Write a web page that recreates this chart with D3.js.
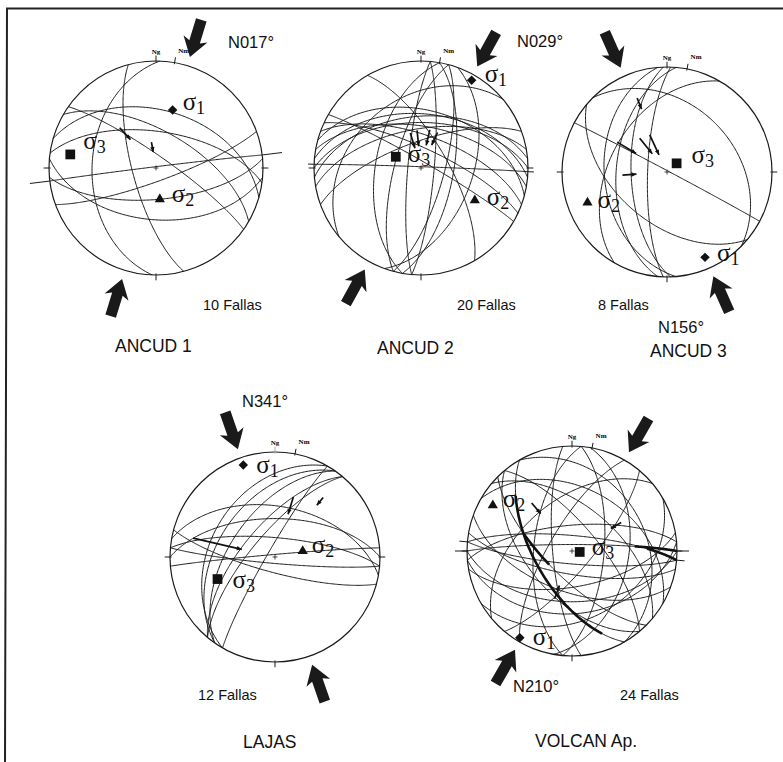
<!DOCTYPE html>
<html><head><meta charset="utf-8">
<script src="https://cdn.jsdelivr.net/npm/d3@7"></script>
<style>body{margin:0;background:#fff}svg{display:block}</style>
</head><body>
<svg id="chart" width="783" height="762"></svg>
<script>
// ---------------- DATA ----------------
const sites = ["ANCUD 1", "ANCUD 2", "ANCUD 3", "LAJAS", "VOLCAN Ap."];
const faultCounts = [10, 20, 8, 12, 24];
const compressionAz = [17, 29, 156, 341, 210];
const compressionLabels = ["N017°", "N029°", "N156°", "N341°", "N210°"];
const magneticDecl = [10, 10, 11, 11, 11];

// fault planes: dip direction / dip (degrees), lower hemisphere
const ancud1DipDir = [272, 255, 16, 8, 35, 30, 175, 185, 160, 353];
const ancud1Dip    = [40, 72, 45, 62, 81, 62, 66, 50, 80, 89];
const ancud2DipDir = [355, 0, 5, 10, 350, 15, 20, 340, 25, 280, 285, 275, 95, 100, 110, 105, 2, 30, 60, 320];
const ancud2Dip    = [50, 55, 48, 58, 60, 45, 65, 70, 75, 55, 70, 80, 80, 65, 50, 72, 89, 85, 70, 35];
const ancud3DipDir = [28, 300, 45, 272, 268, 275, 265, 220];
const ancud3Dip    = [89, 45, 35, 75, 62, 50, 40, 50];
const lajasDipDir  = [305, 305, 310, 300, 310, 300, 5, 0, 355, 195, 10, 185];
const lajasDip     = [55, 45, 65, 38, 72, 84, 75, 60, 88, 78, 50, 85];
const volcanDipDir = [0, 5, 355, 185, 190, 180, 175, 200, 170, 225, 230, 240, 50, 40, 30, 275, 265, 95, 100, 300, 320, 130, 60, 150];
const volcanDip    = [85, 78, 70, 80, 72, 50, 40, 58, 62, 70, 55, 61, 70, 55, 40, 60, 75, 65, 45, 72, 50, 75, 30, 35];
// thick (striated) portions of some VOLCAN planes: plane index, start / end angle along plane
const volcanBoldPlane = [11, 0, 1, 9];
const volcanBoldFrom  = [20, 140, 150, 95];
const volcanBoldTo    = [150, 180, 180, 125];
// straight traces drawn beyond the primitive: panel, plane index, extra length (px)
const extPanel = [0, 1, 4, 4];
const extPlane = [9, 16, 0, 1];
const extPx    = [20, 6, 12, 8];

// slickenside striae (slip vectors): panel, trend, plunge, arrow length (px)
const striaPanel  = [0, 0, 1, 1, 1, 1, 2, 2, 2, 2, 2, 3, 3, 3, 4, 4, 4];
const striaTrend  = [318, 350, 343, 354, 13, 25, 301, 321, 335, 338, 266, 17, 39, 283, 320, 60, 200];
const striaPlunge = [48, 70, 62, 61, 60, 60, 44, 56, 58, 25, 55, 40, 28, 21, 40, 45, 50];
const striaLen    = [16, 10, 16, 16, 16, 14, 22, 20, 22, 12, 14, 18, 10, 50, 14, 12, 14];

// principal stress axes: trend / plunge
const sigma1Trend = [16, 30, 156, 341, 211];
const sigma1Plunge = [43, 6, 12, 8, 4];
const sigma2Trend = [173, 121, 249, 78, 300];
const sigma2Plunge = [66, 41, 20, 68, 14];
const sigma3Trend = [279, 294, 48, 249, 97];
const sigma3Plunge = [20, 69, 80, 41, 84];

// ---------------- LAYOUT ----------------
const panels = [
  {cx:156, cy:168, R:107, head:[228,48], fallas:[203,310], name:[115,352],
   lab:{s1:[10,0], s2:[12,3], s3:[13,-5]}},
  {cx:421, cy:168, R:107, head:[517,47], fallas:[457,310], name:[377,354],
   lab:{s1:[13,2], s2:[12,5], s3:[12,5]}},
  {cx:667, cy:172, R:105, head:[658,333], fallas:[598,310], name:[650,357],
   lab:{s1:[12,4], s2:[10,5], s3:[15,0]}},
  {cx:275, cy:557, R:105, head:[242,407], fallas:[198,700], name:[243,748],
   lab:{s1:[13,8], s2:[9,2], s3:[15,9]}},
  {cx:572, cy:551, R:105, head:[513,692], fallas:[620,700], name:[535,747],
   lab:{s1:[13,7], s2:[10,2], s3:[12,3]}}
];
const planeSets = [
  [ancud1DipDir, ancud1Dip], [ancud2DipDir, ancud2Dip], [ancud3DipDir, ancud3Dip],
  [lajasDipDir, lajasDip], [volcanDipDir, volcanDip]
];

// ---------------- HELPERS ----------------
const rad = Math.PI / 180;
function project(trend, plunge) { // equal-area (Schmidt), unit primitive
  const r = Math.SQRT2 * Math.sin((90 - plunge) / 2 * rad);
  return [r * Math.sin(trend * rad), r * Math.cos(trend * rad)];
}
function greatCircle(dipDir, dip, a0 = 0, a1 = 180) {
  const s = (dipDir - 90) * rad, dd = dipDir * rad, d = dip * rad;
  const S = [Math.sin(s), Math.cos(s), 0];
  const D = [Math.sin(dd) * Math.cos(d), Math.cos(dd) * Math.cos(d), Math.sin(d)];
  const pts = [];
  for (let a = a0; a <= a1; a += 1) {
    const c = Math.cos(a * rad), sn = Math.sin(a * rad);
    const v = [c * S[0] + sn * D[0], c * S[1] + sn * D[1], Math.max(0, c * S[2] + sn * D[2])];
    const pl = Math.asin(Math.min(1, v[2])) / rad;
    const tr = Math.atan2(v[0], v[1]) / rad;
    pts.push(project(tr, pl));
  }
  return pts;
}

const svg = d3.select("#chart");
svg.append("rect").attr("width", 783).attr("height", 762).attr("fill", "#fff");
// frame
svg.append("path").attr("d", "M783,8.5 L7,8.5 L5,762").attr("fill", "none")
  .attr("stroke", "#222").attr("stroke-width", 2);

const sansFont = "'Liberation Sans', Arial, Helvetica, sans-serif";
const serifFont = "'Liberation Serif', 'Times New Roman', serif";
const arrowShape = [[0,0],[-19,-12.5],[-16,-5.5],[-39,-5.5],[-39,5.5],[-16,5.5],[-19,12.5]];

panels.forEach((p, i) => {
  const x = d3.scaleLinear().domain([-1, 1]).range([p.cx - p.R, p.cx + p.R]);
  const y = d3.scaleLinear().domain([-1, 1]).range([p.cy + p.R, p.cy - p.R]);
  const g = svg.append("g");
  const line = d3.line().x(d => x(d[0])).y(d => y(d[1]));

  // great circles
  const [dds, dps] = planeSets[i];
  dds.forEach((dd, k) => {
    const pts = greatCircle(dd, dps[k]);
    extPanel.forEach((ep, j) => {
      if (ep === i && extPlane[j] === k) {
        const f = 1 + extPx[j] / p.R;
        const a = pts[0], b = pts[pts.length - 1];
        pts.unshift([a[0] * f, a[1] * f]);
        pts.push([b[0] * f, b[1] * f]);
      }
    });
    g.append("path").attr("d", line(pts))
      .attr("fill", "none").attr("stroke", "#1a1a1a").attr("stroke-width", 1);
  });
  if (i === 4) {
    volcanBoldPlane.forEach((k, j) => {
      g.append("path").attr("d", line(greatCircle(dds[k], dps[k], volcanBoldFrom[j], volcanBoldTo[j])))
        .attr("fill", "none").attr("stroke", "#111").attr("stroke-width", 2.6);
    });
  }

  // striae: short slip arrows pointing toward the centre
  striaPanel.forEach((sp, j) => {
    if (sp !== i) return;
    const [px, py] = project(striaTrend[j], striaPlunge[j]);
    const sx = x(px), sy = y(py);
    const vx = x(0) - sx, vy = y(0) - sy, n = Math.hypot(vx, vy) || 1;
    const ex = sx + vx / n * striaLen[j], ey = sy + vy / n * striaLen[j];
    g.append("line").attr("x1", sx).attr("y1", sy).attr("x2", ex).attr("y2", ey)
      .attr("stroke", "#111").attr("stroke-width", 1.7);
    const ang = Math.atan2(vy, vx) / rad;
    g.append("polygon").attr("points", "0,0 -5,-2.2 -5,2.2")
      .attr("transform", `translate(${ex},${ey}) rotate(${ang})`).attr("fill", "#111");
  });

  // primitive
  g.append("circle").attr("cx", x(0)).attr("cy", y(0)).attr("r", x(1) - x(0))
    .attr("fill", "none").attr("stroke", "#1a1a1a").attr("stroke-width", 1.2);

  // cardinal ticks (E, S, W) and geographic / magnetic north ticks
  [90, 180, 270, 0, magneticDecl[i]].forEach(az => {
    const a = az * rad;
    const r0 = 0.985, r1 = 1.05;
    g.append("line")
      .attr("x1", x(r0 * Math.sin(a))).attr("y1", y(r0 * Math.cos(a)))
      .attr("x2", x(r1 * Math.sin(a))).attr("y2", y(r1 * Math.cos(a)))
      .attr("stroke", az === 0 && i === 3 ? "#aaa" : "#1a1a1a").attr("stroke-width", 1);
  });
  // centre cross
  g.append("path").attr("d", `M${x(0)-2.5},${y(0)}h5M${x(0)},${y(0)-2.5}v5`)
    .attr("stroke", "#1a1a1a").attr("stroke-width", 0.8);

  g.append("text").attr("x", x(0)).attr("y", y(1) - 7).attr("text-anchor", "middle")
    .attr("font-family", serifFont).attr("font-weight", "bold").attr("font-size", 7)
    .text("Ng");
  const md = magneticDecl[i] * rad;
  g.append("text").attr("x", x(Math.sin(md)) + 9).attr("y", y(1) - 8).attr("text-anchor", "middle")
    .attr("font-family", serifFont).attr("font-weight", "bold").attr("font-size", 7)
    .text("Nm");

  // compression arrows (two, opposite)
  [compressionAz[i], compressionAz[i] + 180].forEach(az => {
    const a = az * rad;
    const rt = 1 + 9 / p.R;
    const tx = x(rt * Math.sin(a)), ty = y(rt * Math.cos(a));
    const ang = Math.atan2(Math.cos(a), -Math.sin(a)) / rad;
    g.append("polygon").attr("points", arrowShape.map(q => q.join(",")).join(" "))
      .attr("transform", `translate(${tx},${ty}) rotate(${ang})`)
      .attr("fill", "#1a1a1a");
  });

  // stress axes
  const axes = [
    {t: sigma1Trend[i], p: sigma1Plunge[i], sym: d3.symbolSquare, size: 45, rot: 45, sub: "1", off: p.lab.s1},
    {t: sigma2Trend[i], p: sigma2Plunge[i], sym: d3.symbolTriangle, size: 45, rot: 0, sub: "2", off: p.lab.s2},
    {t: sigma3Trend[i], p: sigma3Plunge[i], sym: d3.symbolSquare, size: 95, rot: 0, sub: "3", off: p.lab.s3}
  ];
  axes.forEach(ax => {
    const [px, py] = project(ax.t, ax.p);
    const mx = x(px), my = y(py);
    g.append("path").attr("d", d3.symbol().type(ax.sym).size(ax.size)())
      .attr("transform", `translate(${mx},${my}) rotate(${ax.rot})`).attr("fill", "#111");
    const t = g.append("text").attr("x", mx + ax.off[0]).attr("y", my + ax.off[1])
      .attr("font-family", serifFont).attr("fill", "#111");
    t.append("tspan").attr("font-size", 25).text("σ");
    t.append("tspan").attr("font-size", 18).attr("dy", 4).text(ax.sub);
  });

  // texts
  svg.append("text").attr("x", p.head[0]).attr("y", p.head[1])
    .attr("font-family", sansFont).attr("font-size", 16.5).attr("fill", "#111")
    .text(compressionLabels[i]);
  svg.append("text").attr("x", p.fallas[0]).attr("y", p.fallas[1])
    .attr("font-family", sansFont).attr("font-size", 14.5).attr("fill", "#111")
    .text(faultCounts[i] + " Fallas");
  svg.append("text").attr("x", p.name[0]).attr("y", p.name[1])
    .attr("font-family", sansFont).attr("font-size", 17.5).attr("fill", "#111")
    .text(sites[i]);
});
</script>
</body></html>
